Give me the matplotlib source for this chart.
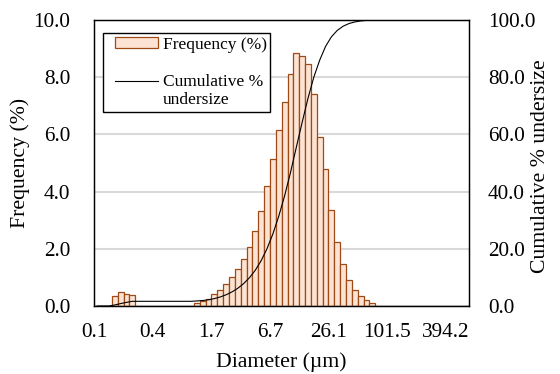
import numpy as np
import matplotlib
matplotlib.use('Agg')
import matplotlib.pyplot as plt
from matplotlib.ticker import FormatStrFormatter
from matplotlib.legend_handler import HandlerLine2D, HandlerPatch
from matplotlib.patches import Patch
from matplotlib.lines import Line2D

# ---- data ----
tick_labels = ['0.1', '0.4', '1.7', '6.7', '26.1', '101.5', '394.2']

freq = ([0, 0, 0,
         0.36, 0.49, 0.42, 0.37,
         0, 0, 0, 0, 0, 0, 0, 0, 0, 0,
         0.12, 0.16, 0.26, 0.41, 0.56, 0.76, 1.00, 1.28, 1.63, 2.07,
         2.63, 3.33, 4.20, 5.15, 6.16, 7.14, 8.10, 8.85, 8.75, 8.45,
         7.40, 5.92, 4.80, 3.35, 2.25, 1.47, 0.92, 0.56, 0.36, 0.20, 0.12]
        + [0] * 16)

cum = ([0, 0, 0,
        0.36, 0.85, 1.27, 1.64,
        1.64, 1.64, 1.64, 1.64, 1.64, 1.64, 1.64, 1.64, 1.64, 1.64,
        1.76, 1.92, 2.18, 2.59, 3.15, 3.91, 4.91, 6.19, 7.82, 9.89,
        12.52, 15.85, 20.05, 25.20, 31.36, 38.50, 46.60, 55.45, 64.20, 72.65,
        80.05, 85.97, 90.77, 94.12, 96.37, 97.84, 98.76, 99.32, 99.68, 99.88, 100.0]
       + [100.0] * 16)

plt.rcParams['font.family'] = ['Liberation Serif', 'DejaVu Serif']

face = '#FCE3D3'
edge = '#9E4A16'


class TopLine(HandlerLine2D):
    def create_artists(self, legend, orig_handle, xdescent, ydescent,
                       width, height, fontsize, trans):
        arts = super().create_artists(legend, orig_handle, xdescent, ydescent,
                                      width, height, fontsize, trans)
        for a in arts:
            y = np.asarray(a.get_ydata(), float)
            a.set_ydata(y + 0.6 * fontsize)
        return arts


fig = plt.figure(figsize=(5.6, 3.74), dpi=100)
ax = fig.add_axes([0.1684, 0.1818, 0.6691, 0.7647])

n = len(freq)
idx = np.arange(n)
f = np.array(freq, float)
mask = f > 0
ax.bar(idx[mask], f[mask], width=1, align='edge', color=face,
       edgecolor=edge, linewidth=0.9, zorder=2)
ax.set_xlim(0, n)
ax.set_ylim(0, 10)
ax.set_yticks(np.arange(0, 10.01, 2))
ax.yaxis.set_major_formatter(FormatStrFormatter('%.1f'))
ax.grid(axis='y', color='#D9D9D9', lw=1.5, zorder=0)
ax.set_axisbelow(True)
ax.set_xticks(np.arange(0, n, 10))
ax.set_xticklabels(tick_labels)
ax.tick_params(length=0, labelsize=15.3)
ax.tick_params(axis='x', pad=11.9)
ax.tick_params(axis='y', pad=17.3)
for s in ax.spines.values():
    s.set_color('black')
    s.set_linewidth(0.9)

ax2 = ax.twinx()
ax2.plot(idx + 0.5, cum, color='black', lw=0.8)
ax2.set_ylim(0, 100)
ax2.set_yticks(np.arange(0, 100.1, 20))
ax2.yaxis.set_major_formatter(FormatStrFormatter('%.1f'))
ax2.tick_params(length=0, labelsize=15.3, pad=13.7)
for s in ax2.spines.values():
    s.set_color('black')
    s.set_linewidth(0.9)

ax.set_ylabel('Frequency (%)', fontsize=15.7)
ax.yaxis.set_label_coords(-0.171, 0.5)
ax2.set_ylabel('Cumulative % undersize', fontsize=15.7)
ax2.yaxis.set_label_coords(1.165, 0.49)
ax.set_xlabel('Diameter (µm)', fontsize=15.7)
ax.xaxis.set_label_coords(0.5, -0.160)

handles = [Patch(facecolor=face, edgecolor=edge, lw=0.9),
           Line2D([], [], color='black', lw=0.8)]
labels = ['Frequency (%)', 'Cumulative %\nundersize']
leg = ax2.legend(handles, labels, loc='upper left', bbox_to_anchor=(0.023, 0.955),
                 borderaxespad=0, fontsize=12.5, frameon=True, fancybox=False,
                 edgecolor='black', framealpha=1, handlelength=2.97,
                 handleheight=0.55, handletextpad=0.25, labelspacing=1.2,
                 borderpad=0.22,
                 handler_map={Patch: HandlerPatch(xpad=0.5),
                              Line2D: TopLine(xpad=0.5)})
leg.get_frame().set_linewidth(1.0)

fig.savefig('out.png', dpi=100)
